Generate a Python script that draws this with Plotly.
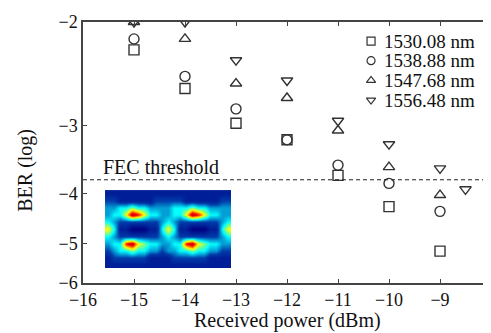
import math
import plotly.graph_objects as go

# ---------------- data ----------------
power = [-15, -14, -13, -12, -11, -10, -9]
ber_1530 = [-2.22, -2.58, -2.97, -3.18, -3.70, -4.24, -5.18]
ber_1538 = [-2.13, -2.46, -2.80, -3.18, -3.54, -3.83, -4.33]
ber_1547 = [-2.00, -2.13, -2.53, -2.68, -3.06, -3.57, -4.03]
power_1556 = [-15, -14, -13, -12, -11, -10, -9, -8.5]
ber_1556 = [-2.00, -2.00, -2.31, -2.50, -2.94, -3.24, -3.59, -3.93]
series_names = ["1530.08 nm", "1538.88 nm", "1547.68 nm", "1556.48 nm"]
fec_log = -3.77
x_ticks = [-16, -15, -14, -13, -12, -11, -10, -9, -8]
y_ticks = [-2, -3, -4, -5, -6]

# eye-diagram inset intensity (rows top -> bottom, digits 0..9)
eye_rows = [
    "111111111111111111111",
    "221111112222211111122",
    "334454433334445443333",
    "344698644334469864433",
    "432222222343222222234",
    "641100011464110001146",
    "432222222343222222234",
    "344896544334489654433",
    "234454433233445443322",
    "122222211112222221111",
    "111111111111111111111",
]


# BER axis: Q-factor (log) scale, as in classic BER plots
def q_of(log_ber):
    ber = 10 ** log_ber
    lo, hi = 0.0, 12.0
    for _ in range(80):
        mid = 0.5 * (lo + hi)
        if 0.5 * math.erfc(mid / math.sqrt(2)) > ber:
            lo = mid
        else:
            hi = mid
    return 0.5 * (lo + hi)


def tr(vals):
    return [q_of(v) for v in vals]


FONT = "Liberation Serif, Times New Roman, serif"
INK = "#333333"
TXT = "#111111"

fig = go.Figure()

symbols = ["square-open", "circle-open", "triangle-up-open", "triangle-down-open"]
xs = [power, power, power, power_1556]
ys = [ber_1530, ber_1538, ber_1547, ber_1556]
for name, sym, xv, yv in zip(series_names, symbols, xs, ys):
    fig.add_trace(go.Scatter(
        x=xv, y=tr(yv), mode="markers", name=name, showlegend=False,
        marker=dict(symbol=sym, size=10, color=INK, line=dict(width=1.4, color=INK)),
    ))

# FEC threshold line
fig.add_trace(go.Scatter(
    x=[x_ticks[0], x_ticks[-1]], y=tr([fec_log, fec_log]), mode="lines",
    line=dict(color="#222222", width=1.2, dash="4px,3px"), showlegend=False,
    hoverinfo="skip",
))

# eye diagram inset
z = [[int(c) for c in row] for row in eye_rows]
fig.add_trace(go.Heatmap(
    z=z, xaxis="x2", yaxis="y2", colorscale="Jet", zmin=0, zmax=10,
    zsmooth="best", showscale=False, hoverinfo="skip",
))

# hand-placed legend (keys on an overlay axis in plot-area fractions)
leg_x_key = 0.706
leg_x_text = 0.733
leg_y = [0.927, 0.852, 0.776, 0.701]
fig.add_trace(go.Scatter(
    x=[leg_x_key] * 4, y=leg_y, mode="markers", xaxis="x3", yaxis="y3",
    marker=dict(symbol=symbols, size=8, color=INK, line=dict(width=1.2, color=INK)),
    showlegend=False, hoverinfo="skip", cliponaxis=False,
))
for name, yy in zip(series_names, leg_y):
    fig.add_annotation(
        x=leg_x_text, y=yy, xref="x3", yref="y3", text=name, showarrow=False,
        xanchor="left", yanchor="middle", font=dict(family=FONT, size=19, color=TXT),
    )

fig.add_annotation(
    x=-15.65, y=math.log10(q_of(fec_log)), xref="x", yref="y",
    text="FEC threshold", showarrow=False, xanchor="left", yanchor="bottom",
    yshift=0, font=dict(family=FONT, size=20, color=TXT),
)

# axis titles
fig.add_annotation(
    x=0.5, y=0, xref="paper", yref="paper", yshift=-37, text="Received power (dBm)",
    showarrow=False, xanchor="center", yanchor="middle",
    font=dict(family=FONT, size=20, color=TXT),
)
fig.add_annotation(
    x=0, y=0.43, xref="paper", yref="paper", xshift=-57, text="BER (log)",
    showarrow=False, xanchor="center", yanchor="middle", textangle=-90,
    font=dict(family=FONT, size=20, color=TXT),
)

fig.update_layout(
    width=491, height=333,
    margin=dict(l=75, r=8, t=14, b=58),
    paper_bgcolor="white", plot_bgcolor="rgba(0,0,0,0)",
    font=dict(family=FONT, size=18, color=TXT),
    showlegend=False,
    xaxis=dict(
        range=[x_ticks[0], x_ticks[-1]], tickvals=x_ticks, automargin=False,
        ticks="inside", ticklen=4, tickcolor="#444", showline=True,
        linecolor="#444", linewidth=1.5, mirror="ticks", showgrid=False,
        zeroline=False, tickfont=dict(family=FONT, size=18, color=TXT),
    ),
    yaxis=dict(
        type="log", automargin=False,
        range=[math.log10(q_of(y_ticks[-1])), math.log10(q_of(y_ticks[0]))],
        tickvals=tr(y_ticks), ticktext=["\u2212" + str(-t) for t in y_ticks],
        ticks="inside", ticklen=4, tickcolor="#444", showline=True,
        linecolor="#444", linewidth=1.5, mirror="ticks", showgrid=False,
        zeroline=False, minor=dict(showgrid=False, ticks=""),
        tickfont=dict(family=FONT, size=18, color=TXT),
    ),
    xaxis2=dict(domain=[0.054, 0.363], anchor="y2", visible=False),
    yaxis2=dict(domain=[0.057, 0.356], anchor="x2", visible=False, autorange="reversed"),
    xaxis3=dict(domain=[0, 1], range=[0, 1], anchor="y3", visible=False, fixedrange=True),
    yaxis3=dict(domain=[0, 1], range=[0, 1], anchor="x3", visible=False, fixedrange=True),
)

fig.write_html("out.html")
